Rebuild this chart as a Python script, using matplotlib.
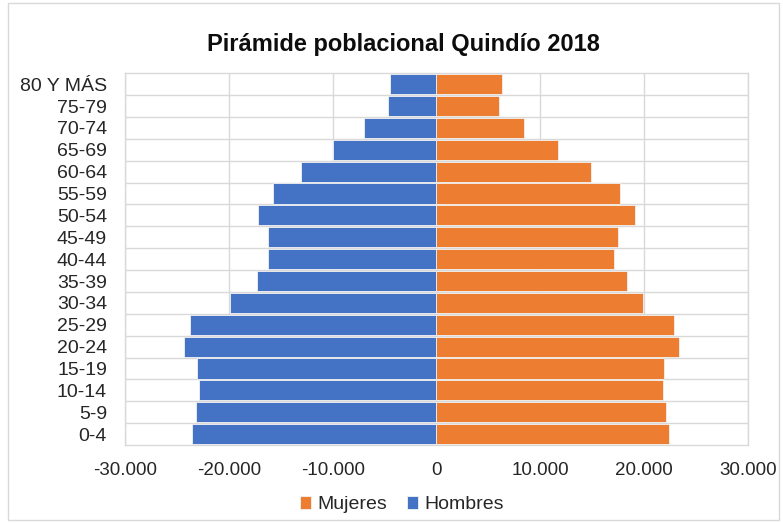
"""Pirámide poblacional Quindío 2018."""

import matplotlib
matplotlib.use("Agg")
import matplotlib.pyplot as plt
from matplotlib.ticker import FuncFormatter

plt.rcParams["font.family"] = ["Liberation Sans", "DejaVu Sans"]

grupos = ["0-4", "5-9", "10-14", "15-19", "20-24", "25-29", "30-34", "35-39",
          "40-44", "45-49", "50-54", "55-59", "60-64", "65-69", "70-74", "75-79", "80 Y MÁS"]
hombres = [23500, 23200, 22900, 23100, 24350, 23700, 19900, 17300,
           16250, 16250, 17150, 15700, 13000, 10000, 7000, 4650, 4450]
mujeres = [22350, 22100, 21800, 21950, 23350, 22900, 19850, 18350,
           17050, 17500, 19100, 17700, 14900, 11750, 8400, 6000, 6300]

AZUL = "#4472C4"
NARANJA = "#ED7D31"
GRID = "#D9D9D9"


def miles(x, _pos):
    return f"{int(x):,}".replace(",", ".")


def main() -> None:
    fig = plt.figure(figsize=(7.83, 5.23), dpi=100)
    ax = fig.add_axes([0.1596, 0.149, 0.7957, 0.711])
    y = list(range(len(grupos)))

    ax.barh(y, mujeres, height=0.92, color=NARANJA, edgecolor="#F2F2F2", linewidth=0.6,
            label="Mujeres", zorder=3)
    ax.barh(y, [-v for v in hombres], height=0.92, color=AZUL, edgecolor="#F2F2F2",
            linewidth=0.6, label="Hombres", zorder=3)

    ax.set_xlim(-30000, 30000)
    ax.set_ylim(-0.5, len(grupos) - 0.5)
    ax.set_xticks(range(-30000, 30001, 10000))
    ax.xaxis.set_major_formatter(FuncFormatter(miles))
    ax.set_yticks(y)
    ax.set_yticklabels(grupos)
    ax.tick_params(axis="both", length=0, colors="#262626")
    ax.tick_params(axis="x", pad=12, labelsize=13.5)
    ax.tick_params(axis="y", pad=13, labelsize=14)

    ax.grid(axis="x", color=GRID, linewidth=1, zorder=0)
    for b in y[:-1]:
        ax.axhline(b + 0.5, color=GRID, linewidth=1, zorder=0)
    for side in ax.spines.values():
        side.set_color(GRID)
        side.set_linewidth(1)

    fig.suptitle("Pirámide poblacional Quindío 2018", x=0.515, y=0.937,
                 fontsize=17, fontweight="bold", color="#0D0D0D")
    fig.legend(loc="lower center", bbox_to_anchor=(0.513, -0.015), ncol=2, frameon=False,
               fontsize=14, handlelength=0.6, handleheight=0.6, handletextpad=0.3,
               columnspacing=1.0, labelcolor="#262626")

    border = plt.Rectangle((0.01, 0.005), 0.985, 0.99, transform=fig.transFigure,
                           fill=False, edgecolor=GRID, linewidth=1)
    fig.patches.append(border)
    fig.savefig("out.png", dpi=100)
    plt.close(fig)


if __name__ == "__main__":
    main()
